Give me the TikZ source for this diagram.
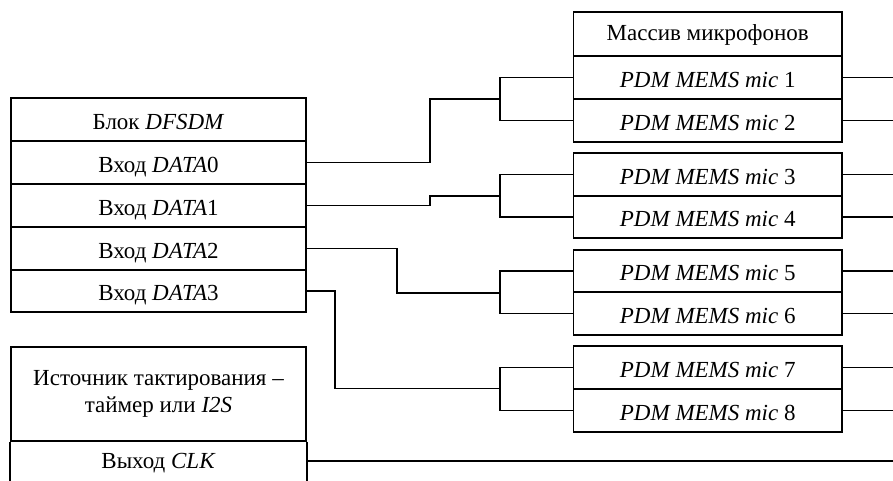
\documentclass[tikz,border=0pt]{standalone}
\usepackage{fontspec}
\setmainfont{Liberation Serif}
\begin{document}
\begin{tikzpicture}[x=1pt,y=-1pt,
  txt/.style={font=\fontsize{23}{26.5}\selectfont, inner sep=0pt, align=center},
  one/.style={text height=19pt, text depth=0pt},
  lbox/.style={txt, draw, line width=1.6pt, minimum width=295pt, minimum height=43pt},
  rbox/.style={txt, one, draw, line width=1.6pt, minimum width=268.5pt, minimum height=43pt},
  wire/.style={line width=1.5pt}]
\useasboundingbox (0,0) rectangle (893,480);
% left DFSDM block
\node[lbox, one] (dt) at (158.5,119.5) {Блок \textit{DFSDM}};
\node[lbox, one] (d0) at (158.5,162.5) {Вход \textit{DATA}0};
\node[lbox, one] (d1) at (158.5,205.5) {Вход \textit{DATA}1};
\node[lbox, one] (d2) at (158.5,248.5) {Вход \textit{DATA}2};
\node[lbox, one, minimum height=42pt] (d3) at (158.5,291) {Вход \textit{DATA}3};
% clock source
\node[lbox, minimum height=94pt] (ct) at (158.5,394) {Источник тактирования –\\таймер или \textit{I2S}};
\node[txt, text height=19pt, text depth=5pt, minimum width=295pt, minimum height=40pt] (clk) at (158.5,461) {Выход \textit{CLK}};
\draw[line width=1.6pt] (ct.south west) -- ++(0,45);
\draw[line width=1.6pt] (ct.south east) -- ++(0,45);
% microphone array
\node[rbox, text height=17pt, text depth=5pt, minimum height=44pt] (mt) at (707.75,34) {Массив микрофонов};
\node[rbox] (m1) at (707.75,77.5) {\textit{PDM MEMS mic} 1};
\node[rbox] (m2) at (707.75,120.5) {\textit{PDM MEMS mic} 2};
\node[rbox] (m3) at (707.75,174.5) {\textit{PDM MEMS mic} 3};
\node[rbox, minimum height=42pt] (m4) at (707.75,217) {\textit{PDM MEMS mic} 4};
\node[rbox, minimum height=42pt] (m5) at (707.75,271) {\textit{PDM MEMS mic} 5};
\node[rbox] (m6) at (707.75,313.5) {\textit{PDM MEMS mic} 6};
\node[rbox] (m7) at (707.75,367.5) {\textit{PDM MEMS mic} 7};
\node[rbox] (m8) at (707.75,410.5) {\textit{PDM MEMS mic} 8};
% junctions and right edge
\coordinate (j1) at (500,99);
\coordinate (j2) at (500,196);
\coordinate (j3) at (500,293);
\coordinate (j4) at (500,388.5);
\foreach \i/\y in {1/77.5,2/120.5,3/174.5,4/217,5/271,6/313.5,7/367.5,8/410.5}
  \coordinate (o\i) at (893,\y);
\coordinate (oclk) at (893,461);
% outputs to the right
\foreach \i in {1,...,8} \draw[wire] (m\i.east) -- (o\i);
% brackets
\draw[wire] (m1.west) -| (j1) |- (m2.west);
\draw[wire] (m3.west) -| (j2) |- (m4.west);
\draw[wire] (m5.west) -| (j3) |- (m6.west);
\draw[wire] (m7.west) -| (j4) |- (m8.west);
\draw[wire] (d0.east) -- ++(123,0) |- (j1);
\draw[wire] (d1.east) -- ++(123,0) |- (j2);
\draw[wire] (d2.east) -- ++(90,0) |- (j3);
\draw[wire] (d3.east) -- ++(28,0) |- (j4);
\draw[wire] (clk.east) -- (oclk);
\end{tikzpicture}
\end{document}
